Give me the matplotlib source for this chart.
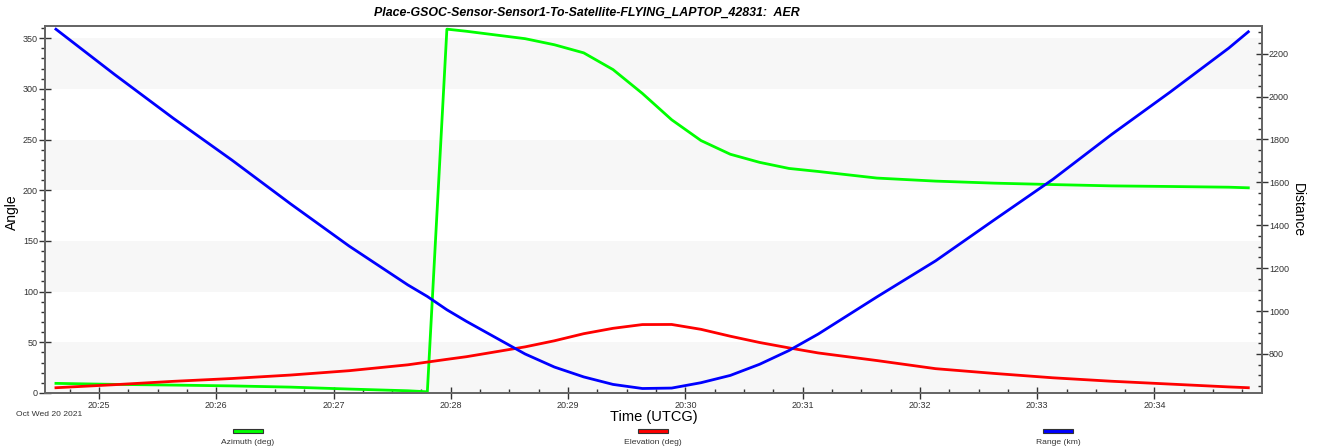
import numpy as np
import matplotlib
matplotlib.use("Agg")
import matplotlib.pyplot as plt
import matplotlib.dates as mdates
from matplotlib.patches import Rectangle
from matplotlib.ticker import MultipleLocator

plt.rcParams['font.family'] = ['Liberation Sans', 'DejaVu Sans']

# Sample times (UTCG, 20 Oct 2021)
times = ["20:24:38", "20:25:08", "20:25:38", "20:26:08", "20:26:38", "20:27:08",
         "20:27:38", "20:27:48", "20:27:58", "20:28:08", "20:28:38", "20:28:53",
         "20:29:08", "20:29:23", "20:29:38", "20:29:53", "20:30:08", "20:30:23",
         "20:30:38", "20:30:53", "20:31:08", "20:31:38", "20:32:08", "20:32:38",
         "20:33:08", "20:33:38", "20:34:08", "20:34:38", "20:34:48"]

azimuth_deg = [9.5, 8.5, 7.8, 7.0, 5.8, 3.9,
               2.2, 1.2, 358.9, 356.8, 349.5, 343.5,
               335.5, 319.0, 295.5, 269.5, 249.0, 235.5,
               227.5, 221.5, 218.5, 212.0, 209.0, 207.0,
               205.6, 204.3, 203.7, 203.0, 202.4]

elevation_deg = [5.2, 8.2, 11.5, 14.3, 17.7, 22.0,
                 27.8, 30.5, 33.2, 35.8, 45.5, 51.5,
                 58.5, 63.8, 67.5, 67.6, 62.8, 56.0,
                 49.8, 44.5, 39.5, 32.0, 24.0, 19.3,
                 15.0, 11.6, 8.8, 6.0, 5.2]

range_km = [2314, 2103, 1899, 1704, 1500, 1303,
            1122, 1068, 1006, 952, 800, 739,
            693, 658, 639, 641, 666, 700,
            752, 816, 893, 1066, 1234, 1425,
            1614, 1823, 2021, 2226, 2302]

series_labels = ["Azimuth (deg)", "Elevation (deg)", "Range (km)"]
series_colors = ["#00ff00", "#ff0000", "#0000ff"]

t = np.array(["2021-10-20T" + s for s in times], dtype="datetime64[s]")
t = mdates.date2num(t.astype(object))
t0 = mdates.date2num(np.datetime64("2021-10-20T20:24:32.4").astype(object))
t1 = mdates.date2num(np.datetime64("2021-10-20T20:34:55").astype(object))

W, H = 1317, 447
fig = plt.figure(figsize=(W / 100, H / 100), dpi=100)
L, R, T, B = 45, 1262, 26, 393
ax = fig.add_axes([L / W, 1 - B / H, (R - L) / W, (B - T) / H])
ax2 = ax.twinx()

# Alternating horizontal bands on the angle axis
for lo in (0, 100, 200, 300):
    ax.axhspan(lo, lo + 50, color="#f7f7f7", zorder=0, lw=0)

lw = 2.0
ax.plot(t, azimuth_deg, color=series_colors[0], lw=lw, zorder=3)
ax.plot(t, elevation_deg, color=series_colors[1], lw=lw, zorder=3)
ax2.plot(t, range_km, color=series_colors[2], lw=lw, zorder=3)

ax.set_xlim(t0, t1)
ax.set_ylim(0, 362)
ax2.set_ylim(618, 2329)

ax.xaxis.set_major_locator(mdates.MinuteLocator())
ax.xaxis.set_minor_locator(mdates.SecondLocator(bysecond=[0, 15, 30, 45]))
ax.xaxis.set_major_formatter(mdates.DateFormatter("%H:%M"))
ax.yaxis.set_major_locator(MultipleLocator(50))
ax.yaxis.set_minor_locator(MultipleLocator(10))
ax2.set_yticks(np.arange(800, 2201, 200))
ax2.yaxis.set_minor_locator(MultipleLocator(50))

spine_c = "#666666"
tick_c = "#333333"
lab_fs = 6.5
for a in (ax, ax2):
    for s in a.spines.values():
        s.set_color(spine_c)
        s.set_linewidth(1.3)
ax.tick_params(axis="x", which="major", direction="inout", length=8, width=1, color=tick_c,
               labelsize=lab_fs, labelcolor=tick_c, pad=2)
ax.tick_params(axis="x", which="minor", direction="in", length=3, width=1, color=tick_c)
ax.tick_params(axis="y", which="major", direction="inout", length=8, width=1, color=tick_c,
               labelsize=lab_fs, labelcolor=tick_c, pad=1)
ax.tick_params(axis="y", which="minor", direction="out", length=3, width=1, color=tick_c)
ax2.tick_params(axis="y", which="major", direction="inout", length=8, width=1, color=tick_c,
                labelsize=lab_fs, labelcolor=tick_c, pad=1)
ax2.tick_params(axis="y", which="minor", direction="in", length=3, width=1, color=tick_c)

fig.text(587 / W, 1 - 13 / H, "Place-GSOC-Sensor-Sensor1-To-Satellite-FLYING_LAPTOP_42831:  AER",
         ha="center", va="center", fontsize=8.9, fontweight="bold", fontstyle="italic")
fig.text(12 / W, 1 - 212 / H, "Angle", rotation=90, ha="center", va="center", fontsize=10)
fig.text(1298 / W, 1 - 210 / H, "Distance", rotation=270, ha="center", va="center", fontsize=10)
fig.text(654 / W, 1 - 417 / H, "Time (UTCG)", ha="center", va="center", fontsize=10.5)
fig.text(49 / W, 1 - 414 / H, "Oct Wed 20 2021", ha="center", va="center", fontsize=6.1,
         color=tick_c)

# Legend entries below the axes
for cx, lab, col in zip((248, 653, 1058), series_labels, series_colors):
    fig.patches.append(Rectangle(((cx - 15) / W, 1 - 433 / H), 30 / W, 4 / H,
                                 transform=fig.transFigure, facecolor=col,
                                 edgecolor="#333333", lw=0.8))
    fig.text(cx / W, 1 - 442 / H, lab, ha="center", va="center", fontsize=6.1, color=tick_c)

fig.savefig("out.png", dpi=100)
